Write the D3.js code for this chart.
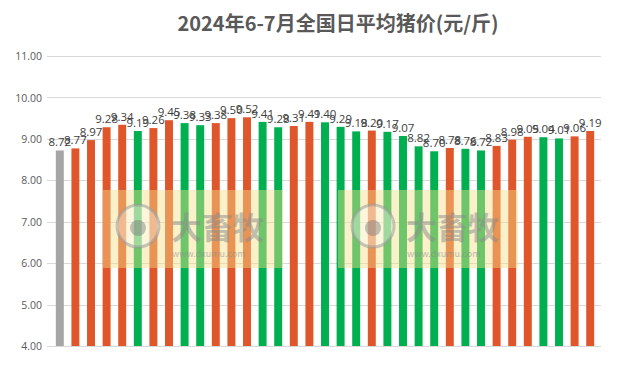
<!DOCTYPE html>
<html>
<head>
<meta charset="utf-8">
<script src="https://cdn.jsdelivr.net/npm/d3@7"></script>
<style>
  body { margin: 0; background: #fff; }
  text { font-family: "Noto Sans CJK SC", "Noto Sans", sans-serif; }
</style>
</head>
<body>
<div id="chart"></div>
<script>
// Daily points (35 days), the first one is the reference day
const days = ["1", "2", "3", "4", "5", "6", "7", "8", "9", "10",
              "11", "12", "13", "14", "15", "16", "17", "18", "19", "20",
              "21", "22", "23", "24", "25", "26", "27", "28", "29", "30",
              "31", "32", "33", "34", "35"];
const prices = [8.72, 8.77, 8.97, 9.28, 9.34, 9.19, 9.26, 9.45, 9.38, 9.33,
                9.38, 9.50, 9.52, 9.41, 9.28, 9.31, 9.41, 9.40, 9.29, 9.18,
                9.20, 9.17, 9.07, 8.82, 8.70, 8.78, 8.76, 8.72, 8.83, 8.98,
                9.05, 9.04, 9.01, 9.06, 9.19];
const yTicks = [4, 5, 6, 7, 8, 9, 10, 11];
const title = "2024年6-7月全国日平均猪价(元/斤)";

const width = 629;
const height = 370;
const margin = { top: 56, right: 31, bottom: 24, left: 52 };

const svg = d3.select("#chart")
    .append("svg")
    .attr("width", width)
    .attr("height", height);

const x = d3.scaleBand()
    .domain(days)
    .range([margin.left, width - margin.right])
    .paddingInner(0.49)
    .paddingOuter(0.245);

const y = d3.scaleLinear()
    .domain([4, 11])
    .range([height - margin.bottom, margin.top]);

// gridlines
svg.append("g")
    .selectAll("line")
    .data(yTicks)
    .enter().append("line")
    .attr("x1", 47)
    .attr("x2", 601)
    .attr("y1", d => Math.round(y(d)) + 0.5)
    .attr("y2", d => Math.round(y(d)) + 0.5)
    .style("stroke", "#d9d9d9")
    .style("stroke-width", 1);

// y axis labels
const yAxis = svg.append("g")
    .attr("transform", `translate(42,0)`)
    .call(d3.axisLeft(y).tickValues(yTicks).tickFormat(d3.format(".2f")).tickSize(0));
yAxis.select(".domain").remove();
yAxis.selectAll("text")
    .attr("x", 0)
    .attr("dy", "0.35em")
    .style("font-family", "'Open Sans', sans-serif")
    .style("font-size", "10.5px")
    .style("fill", "#595959");

// bar colour: up = orange, down = green, first = gray
const color = (d, i) => {
    if (i === 0) return "#a5a5a5";
    return d >= prices[i - 1] ? "#e0562b" : "#00b050";
};

svg.append("g")
    .selectAll("rect")
    .data(prices)
    .enter().append("rect")
    .attr("x", (d, i) => x(days[i]))
    .attr("width", x.bandwidth())
    .attr("y", d => y(d))
    .attr("height", d => y(4) - y(d))
    .style("fill", color);

// value labels
svg.append("g")
    .selectAll("text")
    .data(prices)
    .enter().append("text")
    .attr("x", (d, i) => x(days[i]) + x.bandwidth() / 2)
    .attr("y", d => y(d) - 4)
    .attr("text-anchor", "middle")
    .style("font-family", "'Open Sans', sans-serif")
    .style("font-size", "11.5px")
    .style("fill", "#404040")
    .text(d => d.toFixed(2));

// watermarks
const marks = [{ x: 103, y: 190 }, { x: 338, y: 190 }];
const wm = svg.append("g")
    .selectAll("g")
    .data(marks)
    .enter().append("g")
    .attr("transform", d => `translate(${d.x},${d.y})`);
wm.append("rect")
    .attr("width", 180)
    .attr("height", 78)
    .style("fill", "#f3e08a")
    .style("opacity", 0.45);
wm.append("circle")
    .attr("cx", 35)
    .attr("cy", 36)
    .attr("r", 21)
    .style("fill", "#ffffff")
    .style("fill-opacity", 0.35)
    .style("stroke", "#9a9a9a")
    .style("stroke-opacity", 0.55)
    .style("stroke-width", 3);
wm.append("circle")
    .attr("cx", 35)
    .attr("cy", 38)
    .attr("r", 8)
    .style("fill", "#7a7a7a")
    .style("opacity", 0.45);
wm.append("text")
    .attr("x", 68)
    .attr("y", 49)
    .style("font-size", "31px")
    .style("font-weight", "bold")
    .style("fill", "#8a8a8a")
    .style("opacity", 0.5)
    .text("大畜牧");
wm.append("text")
    .attr("x", 69)
    .attr("y", 67)
    .style("font-size", "9px")
    .style("fill", "#8a8a8a")
    .style("opacity", 0.55)
    .text("www.dxumu.com");

// title
svg.append("text")
    .attr("x", 338)
    .attr("y", 31)
    .attr("text-anchor", "middle")
    .style("font-size", "20px")
    .style("font-weight", "bold")
    .style("fill", "#595959")
    .text(title);
</script>
</body>
</html>
